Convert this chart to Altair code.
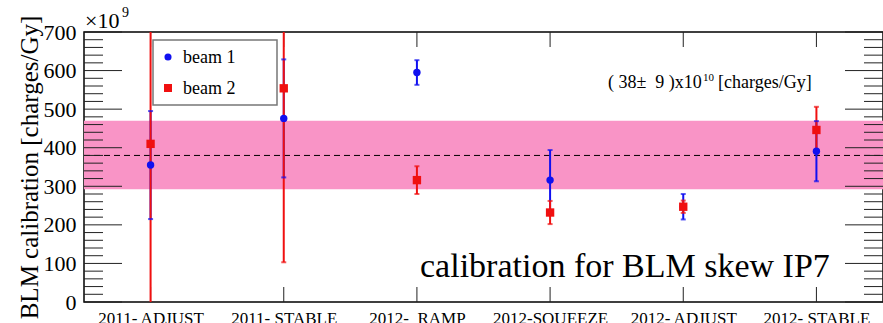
import altair as alt
import pandas as pd

# ---------------- data ----------------
categories = ["2011- ADJUST", "2011- STABLE", "2012-\u00a0\u00a0RAMP",
              "2012-SQUEEZE", "2012- ADJUST", "2012- STABLE"]
beam1_value = [355, 476, 595, 316, 247, 391]
beam1_error = [140, 153, 32, 78, 33, 78]
beam2_value = [410, 554, 316, 232, 247, 446]
beam2_error = [420, 451, 36, 30, 16, 60]
band_mean = 380
band_low = 292
band_high = 470
y_labels = [0, 100, 200, 300, 400, 500, 600, 700]
y_minor = [v for v in range(0, 701, 20) if v % 100]

W, H = 799, 270
FONT = "Liberation Serif"
BLUE = "#1010f0"
RED = "#f01010"
PINK = "#f994c6"


def beam_df(vals, errs):
    return pd.DataFrame({
        "cat": categories,
        "val": vals,
        "lo": [v - e for v, e in zip(vals, errs)],
        "hi": [v + e for v, e in zip(vals, errs)],
    })


b1 = beam_df(beam1_value, beam1_error)
b2 = beam_df(beam2_value, beam2_error)
band = pd.DataFrame({"lo": [band_low], "hi": [band_high], "mean": [band_mean]})
cats_df = pd.DataFrame({"cat": categories})
one_df = pd.DataFrame({"k": [0]})
major_df = pd.DataFrame({"v": y_labels})
minor_df = pd.DataFrame({"v": y_minor})

yscale = alt.Scale(domain=[0, 700], nice=False, zero=False)
xscale = alt.Scale(type="point", padding=0.5, domain=categories)

x_axis = alt.Axis(title=None, labelAngle=0, ticks=False, domain=False, grid=False,
                  labelFont=FONT, labelFontSize=17, labelColor="black", labelPadding=8)
y_axis = alt.Axis(title="BLM calibration [charges/Gy]", values=y_labels, ticks=False,
                  domain=False, grid=False, labelFont=FONT, labelFontSize=22,
                  labelColor="black", labelPadding=8, titleFont=FONT, titleFontSize=25,
                  titleFontWeight="normal", titleColor="black", titlePadding=1)

X_ = lambda: alt.X("cat:N", sort=categories, scale=xscale, axis=x_axis)
Y_ = lambda f: alt.Y(f, scale=yscale, axis=y_axis, title="BLM calibration [charges/Gy]")

# band and mean line
band_layer = alt.Chart(band).mark_rect(color=PINK).encode(
    x=alt.value(0), x2=alt.value(W), y=Y_("lo:Q"), y2="hi:Q")
mean_layer = alt.Chart(band).mark_rule(color="black", strokeWidth=1, strokeDash=[6, 4]).encode(
    x=alt.value(0), x2=alt.value(W), y=Y_("mean:Q"))

# inward ticks
def yticks(df, length):
    left = alt.Chart(df).mark_rule(color="#222", strokeWidth=1).encode(
        y=Y_("v:Q"), x=alt.value(0), x2=alt.value(length))
    right = alt.Chart(df).mark_rule(color="#222", strokeWidth=1).encode(
        y=Y_("v:Q"), x=alt.value(W), x2=alt.value(W - length))
    return [left, right]

xt_bottom = alt.Chart(cats_df).mark_rule(color="#222", strokeWidth=1).encode(
    x=X_(), y=alt.value(H), y2=alt.value(H - 15))
xt_top = alt.Chart(cats_df).mark_rule(color="#222", strokeWidth=1).encode(
    x=X_(), y=alt.value(0), y2=alt.value(15))

# error bars
def bars(df, color):
    return alt.Chart(df).mark_rule(color=color, strokeWidth=2, clip=True).encode(
        x=X_(), y=Y_("lo:Q"), y2="hi:Q")

def caps(df, color):
    lo = alt.Chart(df).mark_tick(color=color, thickness=2, size=5, clip=True).encode(
        x=X_(), y=Y_("lo:Q"))
    hi = alt.Chart(df).mark_tick(color=color, thickness=2, size=5, clip=True).encode(
        x=X_(), y=Y_("hi:Q"))
    return [lo, hi]

pts1 = alt.Chart(b1).mark_point(shape="circle", filled=True, opacity=1, color=BLUE, size=55).encode(
    x=X_(), y=Y_("val:Q"))
pts2 = alt.Chart(b2).mark_point(shape="square", filled=True, opacity=1, color=RED, size=70).encode(
    x=X_(), y=Y_("val:Q"))

# legend box (manual)
leg_box = alt.Chart(one_df).mark_rect(fill="white", stroke="#777", strokeWidth=1.5).encode(
    x=alt.value(69), x2=alt.value(193), y=alt.value(8), y2=alt.value(73))
leg_p1 = alt.Chart(one_df).mark_point(shape="circle", filled=True, opacity=1, color=BLUE, size=50).encode(
    x=alt.value(84), y=alt.value(25))
leg_p2 = alt.Chart(one_df).mark_point(shape="square", filled=True, opacity=1, color=RED, size=64).encode(
    x=alt.value(84), y=alt.value(56))


def txt(s, x, y, size, align="left"):
    return alt.Chart(one_df).mark_text(text=s, font=FONT, fontSize=size, align=align,
                                       fontWeight="normal", baseline="alphabetic",
                                       fill="black", strokeWidth=0).encode(
        x=alt.value(x), y=alt.value(y))


annot = [
    txt("beam 1", 99, 31, 18),
    txt("beam 2", 99, 62, 18),
    txt("(\u00a038\u00b1\u00a0\u00a09\u00a0)x10", 524, 56, 18),
    txt("10", 619, 49, 11),
    txt("[charges/Gy]", 634, 56, 18),
    txt("calibration for BLM skew IP7", 336, 245, 34),
    txt("\u00d710", 1, -4, 22),
    txt("9", 38, -15, 14),
]

layers = ([band_layer, mean_layer] + yticks(minor_df, 19) + yticks(major_df, 38)
          + [xt_bottom, xt_top, bars(b1, BLUE), bars(b2, RED)]
          + caps(b1, BLUE) + caps(b2, RED) + [pts1, pts2]
          + [leg_box, leg_p1, leg_p2] + annot)

chart = alt.layer(*layers).properties(
    width=W, height=H,
    autosize=alt.AutoSizeParams(type="none"),
    padding={"left": 84, "top": 32, "right": 0, "bottom": 21},
    background="white",
).configure_view(stroke="black", strokeWidth=1.5)

chart.save("out.html", embed_options={"renderer": "svg", "actions": False})
